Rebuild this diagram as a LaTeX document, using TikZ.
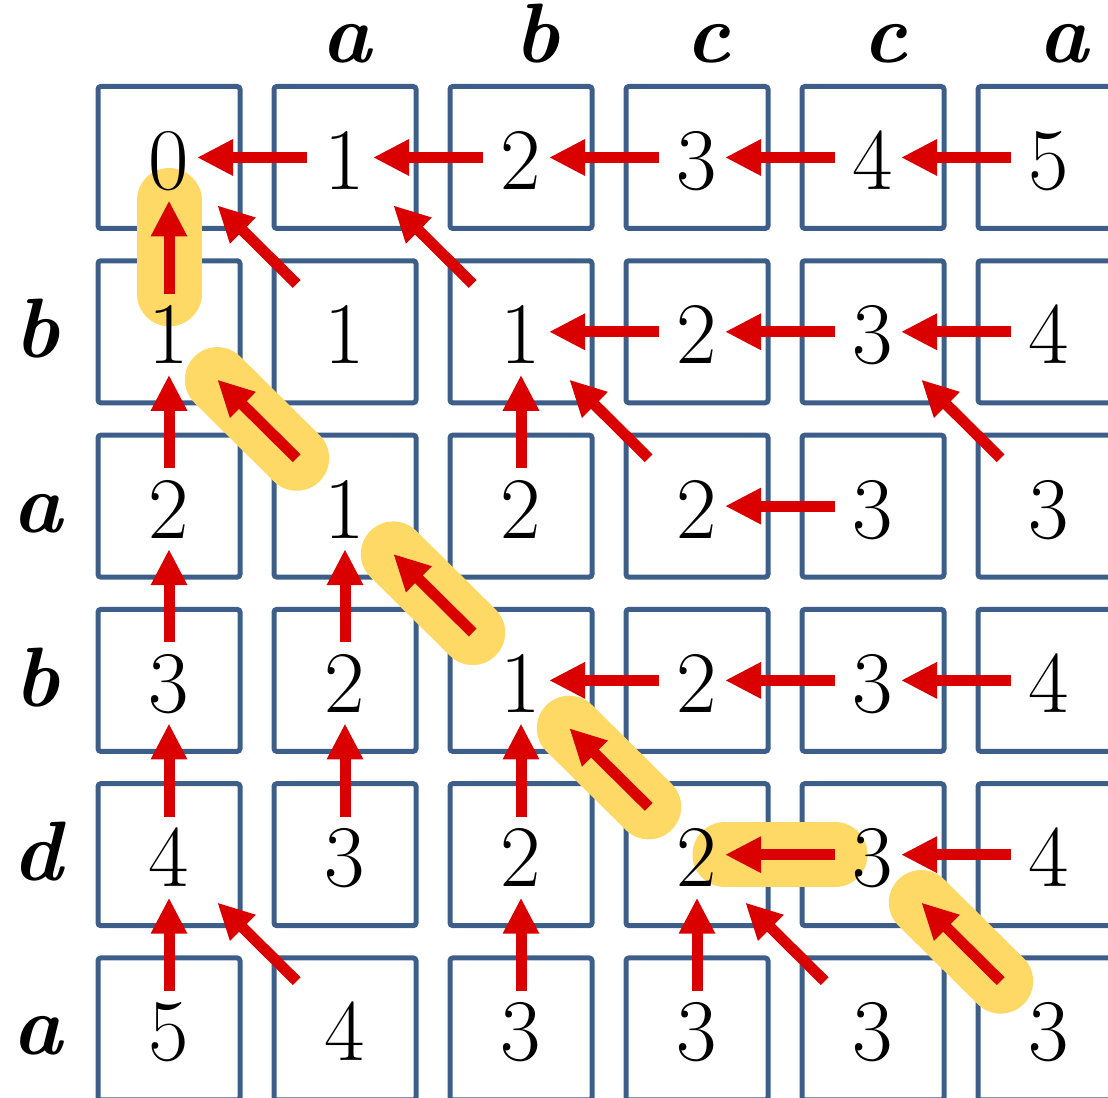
\documentclass[tikz,border=0pt]{standalone}
\usepackage{fontspec}
\usepackage{tikz}
\usetikzlibrary{arrows.meta}
\definecolor{bBox}{RGB}{62,94,138}
\definecolor{dRed}{RGB}{218,0,0}
\definecolor{fGold}{RGB}{255,217,102}

\begin{document}
\begin{tikzpicture}[
  cell/.style={draw=bBox,line width=0.5mm,rounded corners=0.8pt,minimum width=14.2mm,minimum height=14.2mm,inner sep=0pt},
  num/.style={anchor=base,inner sep=0pt,font=\fontsize{25}{30}\selectfont},
  lbl/.style={anchor=base,inner sep=0pt,font=\fontsize{24}{29}\selectfont\bfseries\itshape},
  ar/.style={-{Triangle[length=3.6mm,width=3.4mm]},line width=1.1mm,dRed},
  hl/.style={line width=6.5mm,line cap=round,fGold},
  sh/.style={shorten <=3.8mm,shorten >=2.8mm},
  sv/.style={shorten <=3.8mm,shorten >=4.3mm},
  sd/.style={shorten <=6.8mm,shorten >=6.8mm}]
\useasboundingbox (0,0) rectangle (11.08,-10.98);
\clip (0,0) rectangle (11.08,-10.98);
\foreach \r in {1,...,6} \foreach \c in {1,...,6}
  \node[cell] (c-\r-\c) at ({1.69+1.76*(\c-1)},{-1.575-1.743*(\r-1)}) {};
\foreach \a/\b/\s in {2-1/1-1/sv,3-2/2-1/sd,4-3/3-2/sd,5-4/4-3/sd,5-5/5-4/sh,6-6/5-5/sd}
  \draw[hl,\s] (c-\a.center) -- (c-\b.center);
\foreach \l/\x [count=\c] in {a/3.46,b/5.37,c/7.08,c/8.85,a/10.63}
  \node[lbl] (h-\c) at (\x,-0.63) {\l};
\foreach \l [count=\r from 2] in {b,a,b,d,a}
  \node[lbl] (r-\r) at (0.37,{-1.575-1.743*(\r-1)-0.26}) {\l};
\foreach \v [count=\c] in {0,1,2,3,4,5} \node[num] (n-1-\c) at ([yshift=-3.2mm]c-1-\c.center) {\v};
\foreach \v [count=\c] in {1,1,1,2,3,4} \node[num] (n-2-\c) at ([yshift=-3.2mm]c-2-\c.center) {\v};
\foreach \v [count=\c] in {2,1,2,2,3,3} \node[num] (n-3-\c) at ([yshift=-3.2mm]c-3-\c.center) {\v};
\foreach \v [count=\c] in {3,2,1,2,3,4} \node[num] (n-4-\c) at ([yshift=-3.2mm]c-4-\c.center) {\v};
\foreach \v [count=\c] in {4,3,2,2,3,4} \node[num] (n-5-\c) at ([yshift=-3.2mm]c-5-\c.center) {\v};
\foreach \v [count=\c] in {5,4,3,3,3,3} \node[num] (n-6-\c) at ([yshift=-3.2mm]c-6-\c.center) {\v};
\foreach \a/\b in {1-2/1-1,1-3/1-2,1-4/1-3,1-5/1-4,1-6/1-5,2-4/2-3,2-5/2-4,2-6/2-5,3-5/3-4,4-4/4-3,4-5/4-4,4-6/4-5,5-5/5-4,5-6/5-5}
  \draw[ar,sh] (c-\a.center) -- (c-\b.center);
\foreach \a/\b in {2-1/1-1,3-1/2-1,4-1/3-1,5-1/4-1,6-1/5-1,3-3/2-3,4-2/3-2,5-2/4-2,5-3/4-3,6-3/5-3,6-4/5-4}
  \draw[ar,sv] (c-\a.center) -- (c-\b.center);
\foreach \a/\b in {2-2/1-1,2-3/1-2,3-2/2-1,3-4/2-3,3-6/2-5,4-3/3-2,5-4/4-3,6-2/5-1,6-5/5-4,6-6/5-5}
  \draw[ar,sd] (c-\a.center) -- (c-\b.center);
\end{tikzpicture}
\end{document}
